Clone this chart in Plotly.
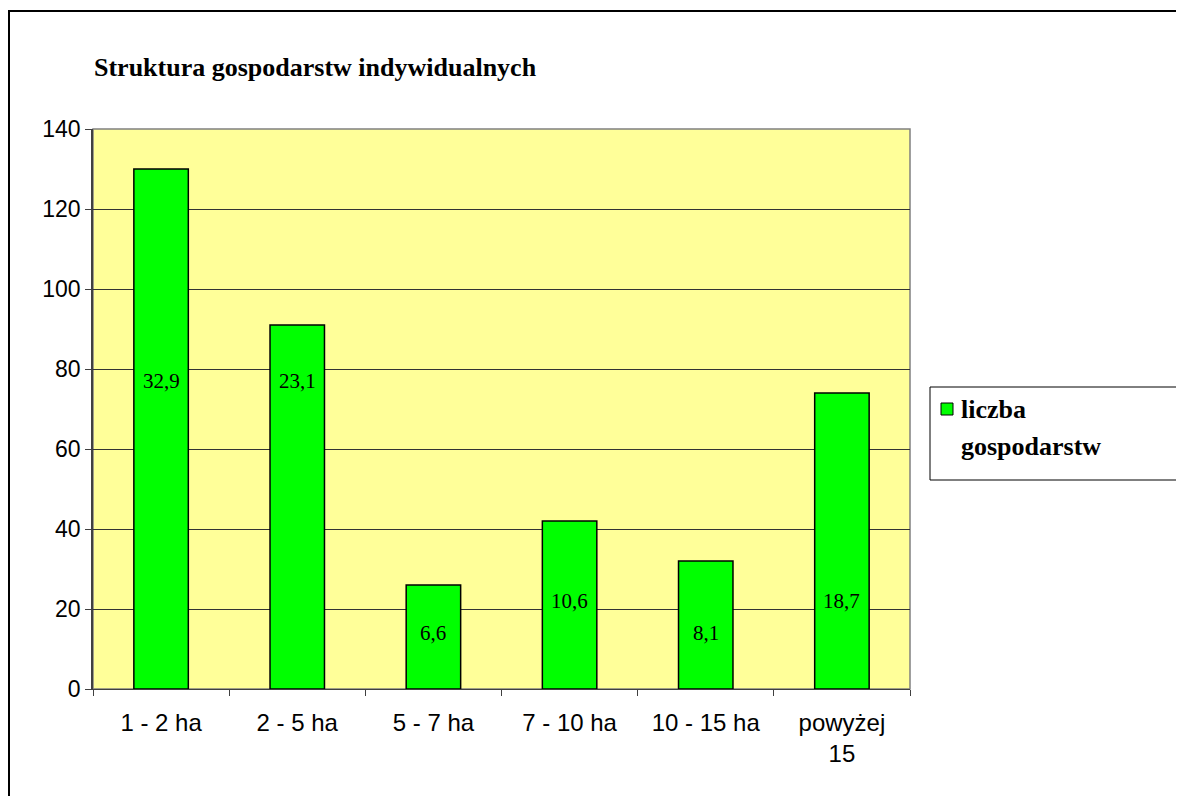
import plotly.graph_objects as go

categories = ["1 - 2 ha", "2 - 5 ha", "5 - 7 ha", "7 - 10 ha", "10 - 15 ha", "powyżej<br>15"]
values = [130, 91, 26, 42, 32, 74]
pct_labels = ["32,9", "23,1", "6,6", "10,6", "8,1", "18,7"]
label_y = [77, 77, 14, 22, 14, 22]
title_text = "Struktura gospodarstw indywidualnych"
legend_name = "liczba gospodarstw"

OFF = 8  # page body margin
W, H = 1176, 788
L, T = 93 - OFF, 129 - OFF
pw, ph = 817, 560
R, B = W - L - pw, H - T - ph

def px_x(x):
    return (x - OFF - L) / pw

def px_y(y):
    return 1 - (y - OFF - T) / ph

serif = "Liberation Serif"
sans = "Liberation Sans"

fig = go.Figure()
fig.add_trace(go.Bar(
    x=categories, y=values, name=legend_name,
    marker=dict(color="#00FF00", line=dict(color="black", width=1.5)),
    width=0.4, showlegend=False, hoverinfo="x+y",
))

annotations = []
for c, t, yv in zip(categories, pct_labels, label_y):
    annotations.append(dict(x=c, y=yv, text=t, showarrow=False, xref="x", yref="y",
                            font=dict(family=serif, size=21, color="black")))

annotations.append(dict(x=px_x(92), y=px_y(68), xref="paper", yref="paper", text=f"<b>{title_text}</b>",
                        showarrow=False, xanchor="left", yanchor="middle",
                        font=dict(family=serif, size=26, color="black")))
annotations.append(dict(x=px_x(959), y=px_y(409), xref="paper", yref="paper", text="<b>liczba</b>",
                        showarrow=False, xanchor="left", yanchor="middle",
                        font=dict(family=serif, size=26, color="black")))
annotations.append(dict(x=px_x(959), y=px_y(446), xref="paper", yref="paper", text="<b>gospodarstw</b>",
                        showarrow=False, xanchor="left", yanchor="middle",
                        font=dict(family=serif, size=26, color="black")))

shapes = [
    # outer chart border (left and top visible)
    dict(type="path", xref="paper", yref="paper",
         path=f"M {px_x(9)},{px_y(830)} L {px_x(9)},{px_y(11)} L {px_x(1220)},{px_y(11)}",
         line=dict(color="black", width=2)),
    # plot area border
    dict(type="rect", xref="paper", yref="paper", x0=0, y0=0, x1=1, y1=1,
         line=dict(color="#808080", width=1.5), layer="below"),
    # legend box
    dict(type="rect", xref="paper", yref="paper", x0=px_x(930), y0=px_y(480), x1=px_x(1240), y1=px_y(387),
         line=dict(color="black", width=1)),
    # legend key
    dict(type="rect", xref="paper", yref="paper", x0=px_x(941), y0=px_y(415), x1=px_x(953), y1=px_y(403),
         fillcolor="#00FF00", line=dict(color="black", width=1)),
]

fig.update_layout(
    width=W, height=H,
    margin=dict(l=L, r=R, t=T, b=B),
    paper_bgcolor="white", plot_bgcolor="#FFFF99",
    bargap=0.6,
    annotations=annotations, shapes=shapes,
    showlegend=False,
)
fig.update_xaxes(
    showgrid=False, showline=True, linecolor="#404040", linewidth=1,
    ticks="outside", tickson="boundaries", ticklen=6, tickcolor="#404040",
    ticklabelstandoff=12,
    tickfont=dict(family=sans, size=24, color="black"),
)
fig.update_yaxes(
    range=[0, 140], dtick=20, showgrid=True, gridcolor="#333333", gridwidth=1,
    showline=True, linecolor="#404040", linewidth=1.5,
    ticks="outside", ticklen=6, tickcolor="#404040", zeroline=False,
    tickfont=dict(family=sans, size=23, color="black"),
)

fig.write_html("out.html")
